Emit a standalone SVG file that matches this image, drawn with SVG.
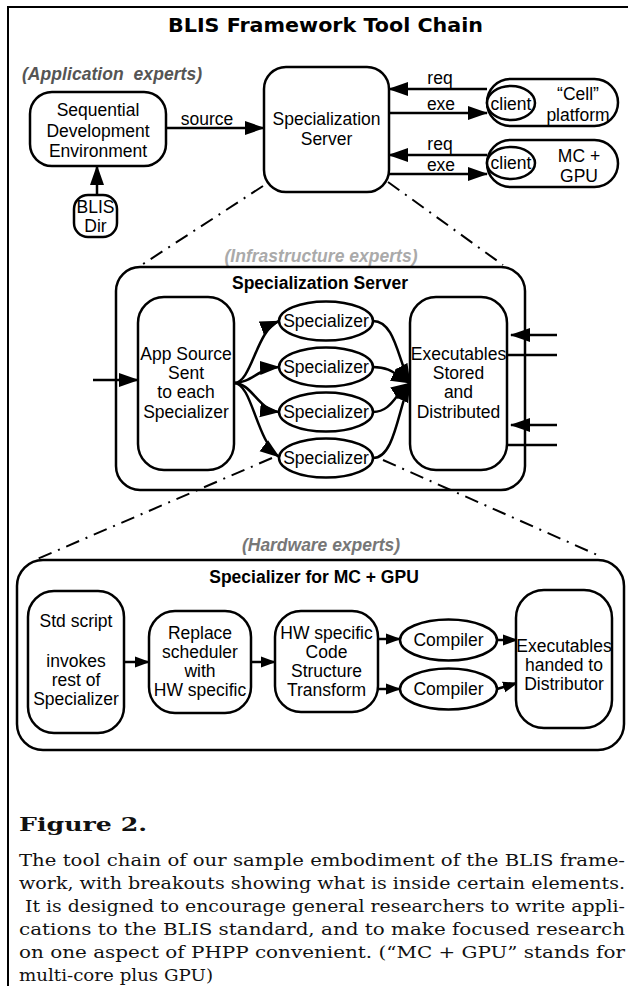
<svg xmlns="http://www.w3.org/2000/svg" width="628" height="986" viewBox="0 0 628 986">
<style>
.box{fill:#fff;stroke:#000;stroke-width:2.5}
.frame{fill:none;stroke:#000;stroke-width:2.5}
.t{font-family:"Liberation Sans",Arial,sans-serif;font-size:17.5px;text-anchor:middle;fill:#000}
.b{font-weight:bold}
.lbl{font-family:"Liberation Sans",Arial,sans-serif;font-size:17.5px;font-weight:bold;font-style:italic;white-space:pre}
.con{fill:none;stroke:#000;stroke-width:2.5}
.dd{fill:none;stroke:#000;stroke-width:2;stroke-dasharray:14 7 2 7}
.cap{font-family:"DejaVu Serif","Liberation Serif",serif;font-size:17.5px;fill:#111}
</style>
<defs>
<marker id="ah" markerUnits="userSpaceOnUse" markerWidth="20" markerHeight="16" viewBox="0 0 20 16" refX="19" refY="8" orient="auto"><path d="M0,1 L20,8 L0,15 z" fill="#000"/></marker>
<marker id="ahs" markerUnits="userSpaceOnUse" markerWidth="15" markerHeight="12" viewBox="0 0 15 12" refX="14" refY="6" orient="auto"><path d="M0,0.5 L15,6 L0,11.5 z" fill="#000"/></marker>
</defs>
<rect width="628" height="986" fill="#fff"/>
<path d="M8,986 L8,7 L628,7" fill="none" stroke="#000" stroke-width="2"/>
<text x="325.5" y="32" font-family="DejaVu Sans,Verdana,sans-serif" font-size="20" font-weight="bold" text-anchor="middle" textLength="315" lengthAdjust="spacingAndGlyphs">BLIS Framework Tool Chain</text>

<g id="labels">
<text class="lbl" x="22" y="80" fill="#555" textLength="180" lengthAdjust="spacing">(Application  experts)</text>
<text class="lbl" x="321" y="262" fill="#aaa" text-anchor="middle" textLength="193" lengthAdjust="spacing">(Infrastructure experts)</text>
<text class="lbl" x="321" y="551" fill="#777" text-anchor="middle" textLength="158" lengthAdjust="spacing">(Hardware experts)</text>
</g>

<g id="server-breakout">
<rect class="frame" x="116" y="267" width="409" height="223" rx="24"/>
<text class="t b" x="320" y="289">Specialization Server</text>
</g>
<g id="specializer-breakout">
<rect class="frame" x="17" y="560" width="607" height="190" rx="26"/>
<text class="t b" x="314" y="583">Specializer for MC + GPU</text>
</g>

<g id="connectors">
<line class="con" marker-end="url(#ah)" x1="166" y1="128" x2="264" y2="128"/>
<text class="t" x="207" y="125">source</text>
<line class="con" marker-end="url(#ah)" x1="97" y1="195" x2="97" y2="166"/>
<line class="con" marker-end="url(#ah)" x1="487" y1="89" x2="389" y2="89"/>
<text class="t" x="440" y="84">req</text>
<line class="con" marker-end="url(#ah)" x1="389" y1="113" x2="487" y2="113"/>
<text class="t" x="441" y="110">exe</text>
<line class="con" marker-end="url(#ah)" x1="487" y1="155" x2="389" y2="155"/>
<text class="t" x="440" y="150">req</text>
<line class="con" marker-end="url(#ah)" x1="389" y1="174" x2="487" y2="174"/>
<text class="t" x="441" y="171">exe</text>
<path class="dd" d="M263,186 L140,266"/>
<path class="dd" d="M388,182 L503,265"/>
<line class="con" marker-end="url(#ah)" x1="93" y1="380" x2="138" y2="380"/>
<path class="con" marker-end="url(#ah)" d="M234,383 C252,383 256,330 279,321"/>
<path class="con" marker-end="url(#ah)" d="M234,383 C252,383 258,368 279,367"/>
<path class="con" marker-end="url(#ah)" d="M234,383 C252,383 258,410 279,412"/>
<path class="con" marker-end="url(#ah)" d="M234,383 C252,383 256,440 279,457"/>
<path class="con" marker-end="url(#ah)" d="M373,321 C395,321 398,360 410,383"/>
<path class="con" marker-end="url(#ah)" d="M373,367 C392,367 396,376 410,383"/>
<path class="con" marker-end="url(#ah)" d="M373,412 C392,412 396,392 410,383"/>
<path class="con" marker-end="url(#ah)" d="M373,458 C395,458 398,408 410,383"/>
<line class="con" marker-end="url(#ah)" x1="557" y1="335" x2="511" y2="335"/>
<line class="con" x1="507" y1="355" x2="557" y2="355"/>
<line class="con" marker-end="url(#ah)" x1="557" y1="425" x2="511" y2="425"/>
<line class="con" x1="507" y1="445" x2="557" y2="445"/>
<path class="dd" d="M272,458 L35,560"/>
<path class="dd" d="M383,460 L602,557"/>
<line class="con" marker-end="url(#ahs)" x1="124" y1="662" x2="149" y2="662"/>
<line class="con" marker-end="url(#ahs)" x1="251" y1="662" x2="275" y2="662"/>
<line class="con" marker-end="url(#ahs)" x1="378" y1="639" x2="400" y2="639"/>
<line class="con" marker-end="url(#ahs)" x1="378" y1="689" x2="400" y2="689"/>
<line class="con" marker-end="url(#ahs)" x1="497" y1="640" x2="517" y2="640"/>
<line class="con" marker-end="url(#ahs)" x1="497" y1="689" x2="517" y2="683"/>
</g>

<g id="sde">
<rect class="box" x="30" y="92" width="136" height="74" rx="22"/>
<text class="t" x="98" y="116">Sequential</text>
<text class="t" x="98" y="137">Development</text>
<text class="t" x="98" y="157">Environment</text>
</g>
<g id="blisdir">
<rect class="box" x="74" y="195" width="43" height="42" rx="14"/>
<text class="t" x="95.5" y="213" font-size="15">BLIS</text>
<text class="t" x="95.5" y="232" font-size="15">Dir</text>
</g>
<g id="specserver">
<rect class="box" x="264" y="67" width="125" height="125" rx="22"/>
<text class="t" x="326.5" y="125">Specialization</text>
<text class="t" x="326.5" y="145">Server</text>
</g>
<g id="cell">
<rect class="box" x="487" y="79" width="131" height="47" rx="23.5"/>
<ellipse class="box" cx="511" cy="103" rx="24" ry="17"/>
<text class="t" x="511" y="109.5">client</text>
<text class="t" x="578" y="100">“Cell”</text>
<text class="t" x="578" y="121">platform</text>
</g>
<g id="mcgpu">
<rect class="box" x="487" y="140" width="131" height="47" rx="23.5"/>
<ellipse class="box" cx="511" cy="163" rx="24" ry="16"/>
<text class="t" x="511" y="169">client</text>
<text class="t" x="579" y="162">MC +</text>
<text class="t" x="579" y="182">GPU</text>
</g>

<g id="appsource">
<rect class="box" x="138" y="297" width="96" height="173" rx="26"/>
<text class="t" x="186" y="360">App Source</text>
<text class="t" x="186" y="379">Sent</text>
<text class="t" x="186" y="398">to each</text>
<text class="t" x="186" y="418">Specializer</text>
</g>
<g id="spec1"><ellipse class="box" cx="326" cy="321" rx="47" ry="19.5"/><text class="t" x="326" y="327">Specializer</text></g>
<g id="spec2"><ellipse class="box" cx="326" cy="367" rx="47" ry="19.5"/><text class="t" x="326" y="373">Specializer</text></g>
<g id="spec3"><ellipse class="box" cx="326" cy="412" rx="47" ry="19.5"/><text class="t" x="326" y="418">Specializer</text></g>
<g id="spec4"><ellipse class="box" cx="326" cy="458" rx="47" ry="19.5"/><text class="t" x="326" y="464">Specializer</text></g>
<g id="execstored">
<rect class="box" x="410" y="297" width="97" height="173" rx="26"/>
<text class="t" x="458.5" y="360">Executables</text>
<text class="t" x="458.5" y="379">Stored</text>
<text class="t" x="458.5" y="398">and</text>
<text class="t" x="458.5" y="418">Distributed</text>
</g>

<g id="stdscript">
<rect class="box" x="28" y="591" width="96" height="142" rx="26"/>
<text class="t" x="76" y="627">Std script</text>
<text class="t" x="76" y="667">invokes</text>
<text class="t" x="76" y="686">rest of</text>
<text class="t" x="76" y="705">Specializer</text>
</g>
<g id="replace">
<rect class="box" x="149" y="611" width="102" height="102" rx="26"/>
<text class="t" x="200" y="639">Replace</text>
<text class="t" x="200" y="658">scheduler</text>
<text class="t" x="200" y="677">with</text>
<text class="t" x="200" y="696">HW specific</text>
</g>
<g id="hwtransform">
<rect class="box" x="275" y="611" width="103" height="101" rx="26"/>
<text class="t" x="326.5" y="639">HW specific</text>
<text class="t" x="326.5" y="658">Code</text>
<text class="t" x="326.5" y="677">Structure</text>
<text class="t" x="326.5" y="696">Transform</text>
</g>
<g id="compiler1"><ellipse class="box" cx="448.5" cy="640" rx="48.5" ry="20.5"/><text class="t" x="448.5" y="646">Compiler</text></g>
<g id="compiler2"><ellipse class="box" cx="448.5" cy="689" rx="48.5" ry="20.5"/><text class="t" x="448.5" y="695">Compiler</text></g>
<g id="exechanded">
<rect class="box" x="516" y="590" width="96" height="138" rx="28"/>
<text class="t" x="564" y="652">Executables</text>
<text class="t" x="564" y="671">handed to</text>
<text class="t" x="564" y="690">Distributor</text>
</g>

<g id="caption">
<text x="19" y="831" font-family="DejaVu Serif,Liberation Serif,serif" font-size="19" font-weight="bold" fill="#111" textLength="128" lengthAdjust="spacingAndGlyphs">Figure 2.</text>
<text class="cap" x="19" y="866" textLength="606" lengthAdjust="spacingAndGlyphs">The tool chain of our sample embodiment of the BLIS frame-</text>
<text class="cap" x="19" y="889" textLength="606" lengthAdjust="spacingAndGlyphs">work, with breakouts showing what is inside certain elements.</text>
<text class="cap" x="25" y="912" textLength="600" lengthAdjust="spacingAndGlyphs">It is designed to encourage general researchers to write appli-</text>
<text class="cap" x="19" y="935" textLength="606" lengthAdjust="spacingAndGlyphs">cations to the BLIS standard, and to make focused research</text>
<text class="cap" x="19" y="958" textLength="606" lengthAdjust="spacingAndGlyphs">on one aspect of PHPP convenient. (“MC + GPU” stands for</text>
<text class="cap" x="19" y="981" textLength="194" lengthAdjust="spacingAndGlyphs">multi-core plus GPU)</text>
</g>
</svg>
